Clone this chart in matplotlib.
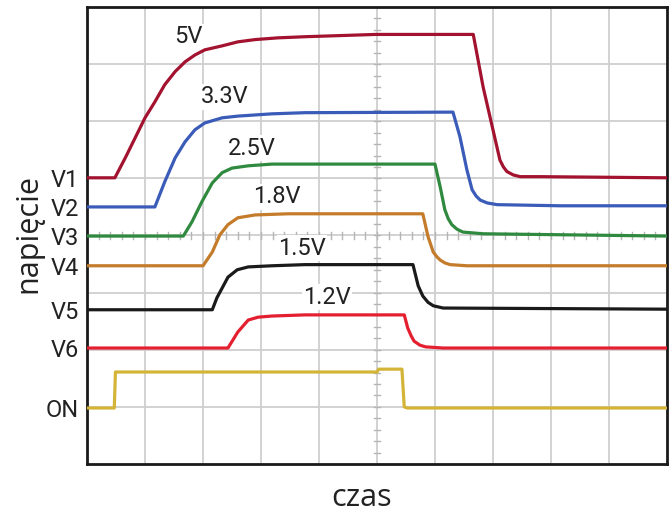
import numpy as np
import matplotlib
matplotlib.use('Agg')
import matplotlib.pyplot as plt

# Traces (x in divisions, y in divisions, 2 V/div)
v1_x = [0, 0.48, 0.66, 0.83, 1.00, 1.17, 1.34, 1.52, 1.69, 1.86, 2.03, 2.33, 2.60, 2.90, 3.29, 3.76, 4.98,
        6.66, 6.83, 7.00, 7.12, 7.18, 7.24, 7.35, 7.47, 7.81, 10]
v1_y = [5.01, 5.01, 5.36, 5.71, 6.06, 6.34, 6.64, 6.87, 7.04, 7.16, 7.25, 7.32, 7.39, 7.43, 7.46, 7.48, 7.52,
        7.52, 6.60, 5.85, 5.32, 5.20, 5.12, 5.06, 5.03, 5.03, 5.01]

v2_x = [0, 1.17, 1.34, 1.52, 1.69, 1.86, 2.03, 2.33, 2.60, 3.19, 3.76,
        6.31, 6.43, 6.55, 6.64, 6.71, 6.78, 6.90, 7.07, 8.16, 10]
v2_y = [4.50, 4.50, 4.94, 5.36, 5.64, 5.85, 5.97, 6.06, 6.09, 6.13, 6.15,
        6.16, 5.73, 5.15, 4.80, 4.69, 4.62, 4.57, 4.54, 4.52, 4.52]

v3_x = [0, 1.66, 1.81, 1.98, 2.16, 2.33, 2.50, 2.78, 3.19, 3.76,
        6.00, 6.09, 6.17, 6.23, 6.29, 6.38, 6.48, 6.83, 10]
v3_y = [3.99, 3.99, 4.24, 4.59, 4.92, 5.10, 5.18, 5.22, 5.25, 5.25,
        5.25, 4.85, 4.45, 4.29, 4.19, 4.11, 4.06, 4.03, 3.99]

v4_x = [0, 2.00, 2.16, 2.29, 2.43, 2.60, 2.90, 3.47,
        5.79, 5.88, 5.97, 6.03, 6.09, 6.17, 6.26, 6.55, 10]
v4_y = [3.47, 3.47, 3.71, 4.01, 4.19, 4.31, 4.36, 4.38,
        4.38, 3.98, 3.71, 3.63, 3.57, 3.52, 3.49, 3.47, 3.47]

v5_x = [0, 2.16, 2.24, 2.33, 2.43, 2.59, 2.78, 3.19, 3.76,
        5.62, 5.71, 5.79, 5.88, 5.97, 6.14, 10]
v5_y = [2.70, 2.70, 2.91, 3.08, 3.27, 3.40, 3.45, 3.47, 3.49,
        3.49, 3.12, 2.94, 2.83, 2.77, 2.73, 2.71]

v6_x = [0, 2.43, 2.60, 2.78, 2.95, 3.19, 3.76,
        5.47, 5.53, 5.59, 5.64, 5.74, 5.84, 6.14, 10]
v6_y = [2.03, 2.03, 2.31, 2.52, 2.57, 2.59, 2.61,
        2.61, 2.38, 2.24, 2.15, 2.08, 2.05, 2.03, 2.03]

on_x = [0, 0.47, 0.49, 5.0, 5.03, 5.43, 5.47, 5.52, 10]
on_y = [0.98, 0.98, 1.61, 1.61, 1.66, 1.66, 1.00, 0.98, 0.98]

traces = [
    (v1_x, v1_y, '#a3122f'),
    (v2_x, v2_y, '#3a5cb8'),
    (v3_x, v3_y, '#2f8a3f'),
    (v4_x, v4_y, '#c47b2a'),
    (v5_x, v5_y, '#1a1a1a'),
    (v6_x, v6_y, '#e41f2f'),
    (on_x, on_y, '#d4b436'),
]

# channel names at the baseline of each trace
chan_labels = ['V1', 'V2', 'V3', 'V4', 'V5', 'V6', 'ON']
chan_levels = [5.01, 4.50, 3.99, 3.47, 2.70, 2.03, 0.98]

# voltage labels next to the rising edges
volt_labels = ['5V', '3.3V', '2.5V', '1.8V', '1.5V', '1.2V']
volt_x = [1.74, 2.38, 2.84, 3.28, 3.71, 4.14]
volt_y = [7.48, 6.43, 5.53, 4.68, 3.78, 2.92]

narrow = ['DejaVu Sans Condensed', 'Liberation Sans Narrow', 'Roboto', 'DejaVu Sans']

fig = plt.figure(figsize=(6.72, 5.12), dpi=100)
ax = fig.add_axes([0.1295, 0.0938, 0.863, 0.8925])

ax.set_xlim(0, 10)
ax.set_ylim(0, 8)

# scope graticule
for gx in range(1, 10):
    ax.axvline(gx, color='#cfcfcf', lw=1.3, zorder=0)
for gy in range(1, 8):
    ax.axhline(gy, color='#cfcfcf', lw=1.3, zorder=0)

# small ticks on the centre lines
for t in np.arange(0.2, 10, 0.2):
    ax.plot([t, t], [3.94, 4.06], color='#b5b5b5', lw=1.0, zorder=0)
for t in np.arange(0.2, 8, 0.2):
    ax.plot([4.94, 5.06], [t, t], color='#b5b5b5', lw=1.0, zorder=0)

for x, y, c in traces:
    ax.plot(x, y, color=c, lw=2.3, solid_joinstyle='round', zorder=3)

for lab, x, y in zip(volt_labels, volt_x, volt_y):
    ax.text(x, y, lab, ha='center', va='center', fontsize=17, family=narrow,
            stretch='condensed', color='#222222', zorder=2,
            bbox=dict(facecolor='white', edgecolor='none', pad=1.0))

ax.set_xticks([])
ax.set_yticks(chan_levels)
ax.set_yticklabels(chan_labels, family=narrow, stretch='condensed', fontsize=17, color='#222222')
ax.tick_params(axis='y', length=0, pad=6)

for s in ax.spines.values():
    s.set_linewidth(2.0)
    s.set_color('#1a1a1a')

ax.set_xlabel('czas', fontsize=22, family='Open Sans', color='#222222')
ax.xaxis.set_label_coords(0.474, -0.042, transform=ax.transAxes)
ax.set_ylabel('napięcie', fontsize=22, family='Open Sans', color='#222222')
ax.yaxis.set_label_coords(-0.075, 0.505, transform=ax.transAxes)

fig.savefig('out.png', dpi=100)
